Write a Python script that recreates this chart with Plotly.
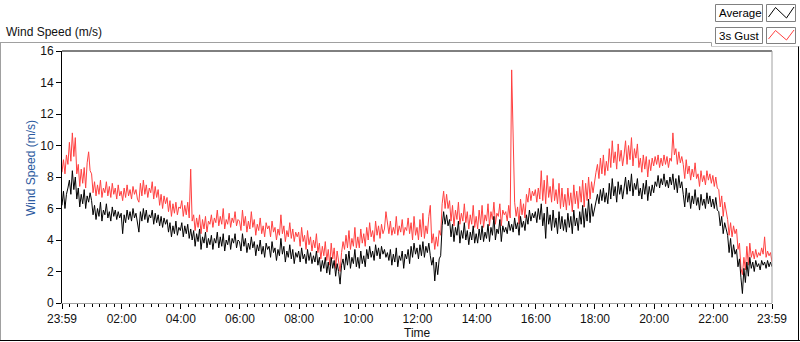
import pandas as pd
import plotly.graph_objects as go

# ---- data: 3-minute samples from 23:59 (previous day) to 23:59 ----
start_time = "2000-01-01 23:59"
sample_minutes = 3

average = [
    6.2, 7.1, 6.0, 6.9, 7.3, 7.8, 6.9, 8.4, 7.2, 8.0, 6.6, 7.3, 6.1, 6.9, 6.3, 7.2, 6.0, 6.8, 6.4, 7.0,
    6.5, 5.6, 6.2, 5.3, 6.0, 5.5, 6.4, 5.2, 5.9, 5.6, 6.3, 5.4, 5.8, 5.2, 6.1, 5.5, 5.9, 5.3, 5.8, 5.4,
    5.7, 4.4, 5.6, 5.1, 5.9, 5.3, 5.8, 5.2, 6.0, 5.4, 5.7, 5.0, 4.5, 5.8, 5.2, 6.0, 5.3, 5.9, 5.1, 5.6,
    5.4, 5.9, 5.0, 5.7, 5.1, 5.6, 4.9, 5.5, 4.8, 5.4, 5.0, 5.3, 4.5, 5.1, 4.2, 4.9, 4.4, 5.2, 4.3, 4.8,
    4.6, 5.1, 4.2, 4.9, 4.4, 5.0, 4.1, 4.7, 4.0, 4.6, 3.6, 4.4, 3.9, 4.7, 3.4, 4.2, 3.8, 4.5, 3.5, 4.1,
    3.7, 4.3, 3.4, 4.1, 3.8, 4.5, 3.5, 4.2, 3.6, 4.4, 3.3, 4.0, 3.7, 4.3, 3.4, 4.1, 3.8, 4.4, 3.5, 4.0,
    3.9, 3.3, 4.4, 3.6, 4.1, 3.2, 3.8, 3.4, 4.2, 3.5, 3.9, 3.0, 3.7, 3.3, 4.0, 3.1, 3.6, 2.9, 3.8, 3.4,
    3.6, 2.9, 3.9, 3.2, 3.5, 2.7, 3.4, 3.0, 4.1, 3.1, 3.6, 2.6, 3.3, 2.9, 3.7, 2.8, 3.4, 2.5, 3.2, 2.9,
    3.3, 2.6, 3.5, 2.8, 3.1, 2.5, 3.4, 2.7, 3.2, 2.5, 3.0, 2.6, 3.3, 2.4, 2.9, 2.0, 2.7, 2.2, 2.9, 1.9,
    2.6, 1.8, 2.9, 2.2, 2.7, 1.7, 2.5, 2.0, 1.2, 2.4, 2.8, 2.1, 3.1, 2.4, 3.3, 2.2, 2.9, 2.5, 3.4, 2.3,
    2.9, 2.2, 3.3, 2.5, 3.0, 2.3, 3.4, 2.8, 3.6, 2.9, 3.3, 2.7, 3.7, 3.0, 3.5, 2.8, 3.6, 3.1, 3.4, 2.9,
    3.2, 2.7, 3.4, 2.4, 3.1, 2.6, 3.5, 2.3, 3.0, 2.7, 3.3, 2.2, 3.1, 2.8, 3.4, 2.5, 3.6, 2.9, 3.8, 3.1,
    3.5, 2.8, 3.7, 3.0, 3.9, 2.9, 3.6, 3.2, 3.8, 3.0, 2.4, 2.9, 1.4, 2.6, 1.8, 2.8, 3.0, 4.9, 5.8, 5.0,
    5.6, 4.9, 5.3, 4.2, 5.0, 3.9, 4.8, 4.3, 5.2, 3.8, 4.6, 4.1, 5.1, 4.0, 4.6, 3.7, 4.5, 4.0, 4.9, 3.8,
    4.4, 3.8, 4.7, 4.0, 4.9, 3.9, 4.5, 4.1, 5.0, 3.9, 4.8, 4.3, 5.5, 4.0, 4.7, 4.4, 5.3, 3.9, 4.9, 4.5,
    4.8, 4.4, 5.2, 4.6, 5.0, 4.5, 5.4, 4.7, 5.1, 4.3, 5.5, 4.8, 5.2, 4.6, 5.6, 5.0, 5.9, 5.2, 5.7, 5.4,
    5.8, 5.1, 6.0, 5.3, 6.3, 4.9, 5.7, 4.1, 6.1, 5.0, 5.6, 4.6, 5.9, 4.8, 5.4, 4.4, 5.8, 4.7, 5.5, 4.6,
    5.3, 4.5, 5.7, 4.8, 5.5, 4.4, 5.9, 4.9, 5.4, 4.6, 5.8, 5.0, 6.2, 4.8, 6.0, 5.2, 6.6, 5.1, 6.3, 5.5,
    6.0, 6.5, 6.9, 6.3, 7.2, 6.5, 7.3, 6.4, 7.0, 6.3, 7.6, 6.6, 7.9, 6.8, 7.4, 6.4, 7.7, 6.9, 7.5, 6.6,
    7.4, 8.0, 6.9, 7.8, 7.1, 8.2, 6.8, 7.6, 7.2, 7.9, 6.8, 7.3, 6.6, 7.6, 6.9, 7.8, 6.5, 7.4, 6.8, 7.5,
    7.0, 7.7, 7.4, 8.1, 7.3, 7.9, 7.5, 8.2, 7.4, 7.8, 7.3, 8.0, 7.5, 8.2, 7.2, 7.9, 7.0, 8.1, 7.3, 7.7,
    6.9, 6.1, 7.3, 6.4, 7.0, 6.0, 6.8, 6.3, 7.2, 6.2, 6.7, 5.9, 6.9, 6.2, 6.6, 6.0, 7.0, 6.3, 6.8, 6.1,
    6.6, 6.0, 6.7, 5.9, 5.8, 4.9, 5.5, 4.4, 5.1, 4.6, 4.3, 3.2, 4.1, 2.9, 3.7, 3.1, 3.4, 2.3, 2.8, 1.6,
    0.6, 2.2, 1.3, 2.6, 1.7, 2.9, 2.2, 2.6, 2.0, 2.7, 2.3, 2.5, 2.1, 2.7, 2.4, 2.6, 2.2, 2.7, 2.3, 2.6,
    2.3,
]

gust_3s = [
    8.3, 9.1, 8.2, 9.4, 8.8, 10.2, 9.0, 10.8, 9.3, 10.5, 8.2, 8.8, 7.4, 8.5, 7.6, 8.6, 7.3, 8.9, 9.6, 8.4,
    8.2, 7.0, 7.7, 6.8, 7.5, 6.9, 7.8, 6.7, 7.3, 7.0, 7.7, 6.8, 7.4, 6.7, 7.6, 6.9, 7.3, 6.6, 7.5, 6.8,
    7.1, 6.5, 7.3, 6.7, 7.5, 6.8, 7.2, 6.6, 7.4, 6.9, 7.2, 6.6, 6.4, 7.6, 6.8, 7.8, 6.9, 7.5, 6.7, 7.3,
    7.0, 7.7, 6.6, 7.4, 6.7, 7.2, 6.2, 6.9, 6.0, 6.8, 6.3, 6.7, 5.8, 6.5, 5.5, 6.3, 5.7, 6.4, 5.6, 6.1,
    6.0, 6.5, 5.5, 6.2, 5.6, 6.4, 5.4, 8.5, 5.2, 5.6, 4.6, 5.4, 4.8, 5.6, 4.4, 5.3, 4.7, 5.5, 4.5, 5.2,
    5.0, 5.6, 4.8, 5.4, 5.1, 5.9, 4.9, 5.5, 5.0, 6.0, 4.7, 5.3, 5.0, 5.7, 4.8, 5.4, 5.1, 5.8, 4.9, 5.3,
    5.2, 4.6, 5.9, 4.9, 5.5, 4.5, 5.2, 4.7, 5.8, 4.8, 5.3, 4.3, 5.0, 4.6, 5.4, 4.4, 4.9, 4.2, 5.1, 4.7,
    4.9, 4.2, 5.2, 4.5, 4.8, 4.0, 4.7, 4.3, 5.6, 4.4, 4.9, 3.9, 4.6, 4.2, 5.1, 4.1, 4.7, 3.9, 4.5, 4.2,
    4.5, 3.6, 4.8, 3.9, 4.3, 3.4, 4.6, 3.7, 4.2, 3.3, 4.0, 3.5, 4.4, 3.2, 3.8, 2.8, 3.6, 3.0, 3.9, 2.7,
    3.4, 2.4, 3.8, 2.8, 3.5, 2.2, 3.3, 2.6, 2.0, 3.2, 3.9, 3.4, 4.3, 3.5, 4.6, 3.4, 4.1, 3.6, 4.8, 3.5,
    4.2, 3.5, 4.7, 3.8, 4.4, 3.6, 4.8, 4.0, 5.1, 4.2, 4.6, 3.9, 5.2, 4.3, 4.9, 4.1, 5.0, 4.4, 4.7, 5.8,
    4.9, 4.4, 5.2, 4.3, 4.8, 4.4, 5.5, 4.3, 4.9, 4.5, 5.3, 4.3, 4.8, 4.6, 5.4, 4.4, 5.1, 4.0, 5.5, 4.3,
    4.8, 4.0, 5.3, 4.2, 5.7, 4.1, 4.9, 4.4, 5.5, 6.2, 3.8, 4.4, 3.4, 4.2, 3.6, 4.6, 4.3, 6.3, 7.1, 6.0,
    6.9, 6.0, 6.5, 5.2, 6.2, 4.9, 5.9, 5.3, 6.4, 5.0, 5.7, 5.2, 6.3, 5.1, 5.8, 4.7, 5.6, 5.0, 6.2, 4.8,
    5.5, 4.7, 5.9, 5.0, 6.2, 4.8, 5.6, 5.2, 6.3, 4.9, 5.8, 5.3, 6.4, 5.0, 5.7, 5.5, 6.3, 4.9, 5.9, 5.6,
    5.8, 5.2, 6.2, 5.4, 14.8, 10.3, 6.4, 5.5, 6.1, 5.0, 6.6, 5.6, 6.3, 5.4, 6.9, 6.4, 7.3, 6.5, 7.1, 6.8,
    7.2, 6.4, 7.3, 6.6, 8.4, 6.5, 7.8, 6.3, 8.1, 6.7, 7.4, 6.4, 7.9, 6.5, 7.2, 6.3, 7.6, 6.0, 7.3, 6.1,
    6.9, 5.9, 7.3, 6.2, 7.0, 5.8, 7.5, 6.3, 7.1, 6.0, 7.4, 6.4, 7.8, 6.1, 7.6, 6.5, 8.0, 6.6, 7.7, 7.0,
    7.8, 8.3, 8.8, 7.9, 9.2, 8.2, 9.4, 8.1, 9.0, 8.4, 9.8, 8.6, 10.3, 8.9, 9.6, 8.5, 10.1, 9.0, 9.7, 8.7,
    9.4, 10.3, 8.8, 10.0, 9.1, 10.5, 8.7, 9.8, 9.2, 10.1, 8.6, 9.2, 8.3, 9.4, 8.5, 9.3, 8.0, 9.1, 8.4, 9.2,
    8.7, 9.3, 8.8, 9.4, 8.6, 9.2, 8.7, 9.4, 8.8, 9.3, 8.6, 9.2, 9.0, 10.8, 9.4, 9.8, 8.8, 9.6, 8.9, 9.3,
    8.8, 7.9, 9.1, 8.2, 8.7, 7.8, 8.5, 8.0, 8.9, 7.9, 8.2, 7.4, 8.4, 7.7, 8.1, 7.5, 8.4, 7.8, 8.2, 7.6,
    8.1, 7.4, 8.0, 7.3, 7.2, 6.1, 6.8, 5.5, 6.4, 5.8, 5.3, 4.3, 5.1, 4.2, 4.9, 4.4, 4.7, 3.4, 3.8, 2.2,
    1.8, 2.9, 2.1, 3.6, 2.4, 3.8, 2.9, 3.3, 2.8, 3.4, 2.9, 3.2, 3.0, 3.5, 3.1, 4.2, 2.9, 3.3, 3.0, 3.2,
    2.6,
]

series_names = ["Average", "3s Gust"]
series_colors = ["#000000", "#ff4040"]
major_tick_labels = ["23:59", "02:00", "04:00", "06:00", "08:00", "10:00",
                     "12:00", "14:00", "16:00", "18:00", "20:00", "22:00", "23:59"]
y_ticks = [0, 2, 4, 6, 8, 10, 12, 14, 16]

# ---- geometry helpers (pixels -> paper) ----
W, H = 800, 342
L, R, T, B = 62, 772, 51, 303


def xp(px):
    return (px - L) / (R - L)


def yp(py):
    return (B - py) / (B - T)


times = pd.date_range(start_time, periods=len(average), freq=f"{sample_minutes}min")
t0, t1 = times[0], times[-1]
major_vals = [t0] + list(pd.date_range("2000-01-02 02:00", "2000-01-02 22:00", freq="2h")) + [t1]
minor_vals = [t for t in pd.date_range("2000-01-02 00:15", "2000-01-02 23:45", freq="15min")
              if not (t.minute == 0 and t.hour % 2 == 0)]

FONT = "Liberation Sans, Arial, sans-serif"

fig = go.Figure()
fig.add_trace(go.Scatter(x=times, y=gust_3s, mode="lines", name=series_names[1],
                         line=dict(color=series_colors[1], width=1), hoverinfo="skip"))
fig.add_trace(go.Scatter(x=times, y=average, mode="lines", name=series_names[0],
                         line=dict(color=series_colors[0], width=1), hoverinfo="skip"))

fig.update_layout(
    width=W, height=H,
    margin=dict(l=L, r=W - R, t=T, b=H - B, pad=0),
    paper_bgcolor="white", plot_bgcolor="white",
    showlegend=False,
    font=dict(family=FONT, size=12, color="#111111"),
    xaxis=dict(
        range=[t0, t1], type="date",
        tickmode="array", tickvals=major_vals, ticktext=major_tick_labels,
        ticks="outside", ticklen=5, tickwidth=1, tickcolor="#000000",
        showline=True, linecolor="#a0a0a0", linewidth=1,
        showgrid=False, zeroline=False,
        tickfont=dict(family=FONT, size=12, color="#111111"),
        minor=dict(tickmode="array", tickvals=minor_vals, ticks="outside",
                   ticklen=3, tickwidth=1, tickcolor="#000000", showgrid=False),
    ),
    yaxis=dict(
        range=[0, 16], tickmode="array", tickvals=y_ticks,
        ticks="outside", ticklen=5, tickwidth=1, tickcolor="#000000",
        showline=True, linecolor="#000000", linewidth=1,
        showgrid=False, zeroline=False,
        tickfont=dict(family=FONT, size=12, color="#111111"),
    ),
)

shapes = []
# plot frame: top black, right grey
shapes.append(dict(type="line", xref="paper", yref="paper", x0=0, x1=1, y0=1, y1=1,
                   line=dict(color="#000000", width=1)))
shapes.append(dict(type="line", xref="paper", yref="paper", x0=1, x1=1, y0=0, y1=1,
                   line=dict(color="#a0a0a0", width=1)))
# outer panel
grey = "#a0a0a0"
shapes.append(dict(type="line", xref="paper", yref="paper", x0=xp(0), x1=xp(711.5),
                   y0=yp(42.5), y1=yp(42.5), line=dict(color=grey, width=1)))
shapes.append(dict(type="line", xref="paper", yref="paper", x0=xp(711.5), x1=xp(711.5),
                   y0=yp(42.5), y1=yp(46.5), line=dict(color=grey, width=1)))
shapes.append(dict(type="line", xref="paper", yref="paper", x0=xp(711.5), x1=xp(799.5),
                   y0=yp(46.5), y1=yp(46.5), line=dict(color="#d0d0d0", width=1)))
shapes.append(dict(type="line", xref="paper", yref="paper", x0=xp(0.5), x1=xp(0.5),
                   y0=yp(42.5), y1=yp(341), line=dict(color=grey, width=1)))
shapes.append(dict(type="line", xref="paper", yref="paper", x0=xp(0), x1=xp(800),
                   y0=yp(340.5), y1=yp(340.5), line=dict(color="#000000", width=1)))
shapes.append(dict(type="line", xref="paper", yref="paper", x0=xp(798.5), x1=xp(798.5),
                   y0=yp(46.5), y1=yp(341), line=dict(color="#000000", width=1)))

# legend boxes
legend_rows = [(4.5, 21.5), (27.5, 43.5)]
for (ya, yb), name, col in zip(legend_rows, series_names, series_colors):
    shapes.append(dict(type="rect", xref="paper", yref="paper",
                       x0=xp(715.5), x1=xp(762.5), y0=yp(yb), y1=yp(ya),
                       line=dict(color="#808080", width=1), fillcolor="white"))
    shapes.append(dict(type="rect", xref="paper", yref="paper",
                       x0=xp(766.5), x1=xp(795.5), y0=yp(yb), y1=yp(ya),
                       line=dict(color="#808080", width=1), fillcolor="white"))
    pts = [(768.5, yb - 4.5), (775.5, ya + 3), (786.5, yb - 3.5), (794, ya + 2.5)]
    path = "M " + " L ".join(f"{xp(a):.5f},{yp(b):.5f}" for a, b in pts)
    shapes.append(dict(type="path", xref="paper", yref="paper", path=path,
                       line=dict(color=col, width=1)))
fig.update_layout(shapes=shapes)

ann = []
for (ya, yb), name in zip(legend_rows, series_names):
    ann.append(dict(text=name, xref="paper", yref="paper", x=xp(716.5), y=yp((ya + yb) / 2),
                    xanchor="left", yanchor="middle", showarrow=False,
                    font=dict(family=FONT, size=11.5, color="#000000")))
ann.append(dict(text="Wind Speed (m/s)", xref="paper", yref="paper", x=xp(4), y=yp(32),
                xanchor="left", yanchor="middle", showarrow=False,
                font=dict(family=FONT, size=12, color="#111111")))
ann.append(dict(text="Wind Speed (m/s)", xref="paper", yref="paper", x=xp(31), y=yp(168),
                xanchor="center", yanchor="middle", textangle=-90, showarrow=False,
                font=dict(family=FONT, size=12, color="#2c5aa0")))
ann.append(dict(text="Time", xref="paper", yref="paper", x=xp(417), y=yp(333),
                xanchor="center", yanchor="middle", showarrow=False,
                font=dict(family=FONT, size=12, color="#111111")))
fig.update_layout(annotations=ann)

fig.write_html("out.html", config={"displayModeBar": False},
               post_script="document.body.style.margin='0';document.body.style.padding='0';")
